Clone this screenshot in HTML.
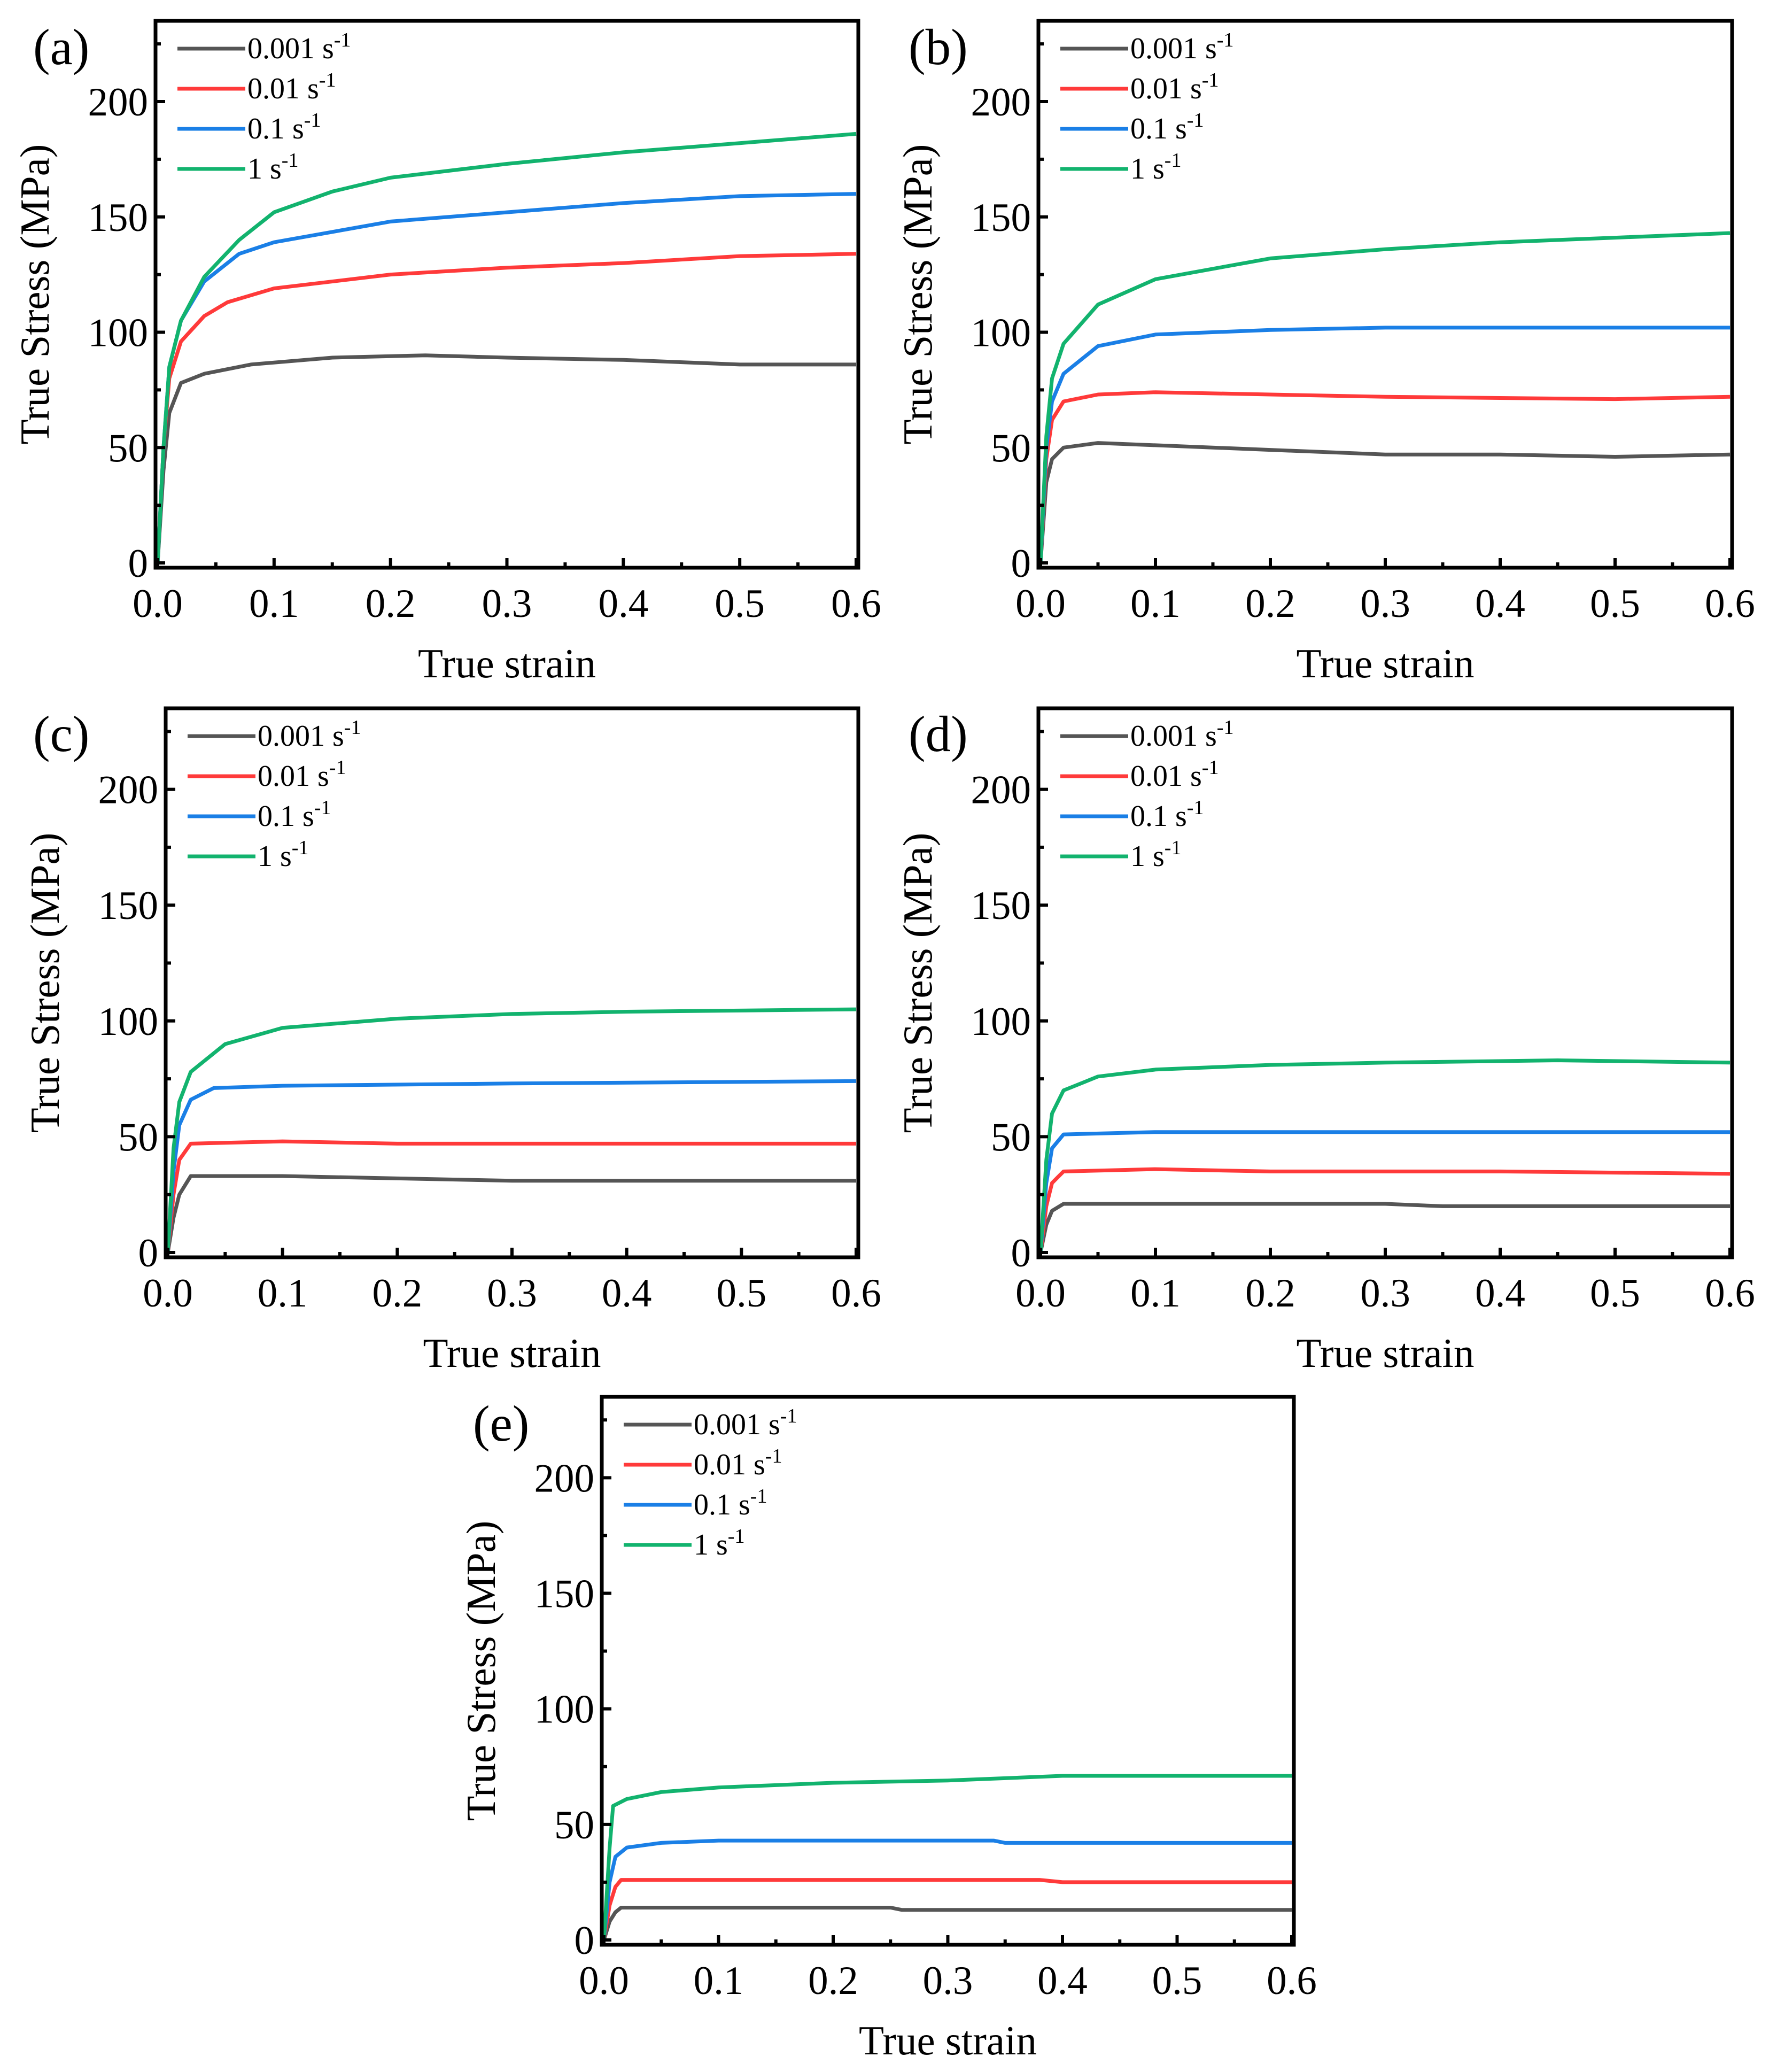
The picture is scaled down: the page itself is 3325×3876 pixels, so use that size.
<!DOCTYPE html>
<html><head><meta charset="utf-8"><style>
html,body{margin:0;padding:0;background:#fff}
svg{display:block;font-family:"Liberation Serif",serif}
</style></head><body>
<svg id="fig" width="3325" height="3876" viewBox="0 0 3325 3876" xmlns="http://www.w3.org/2000/svg"></svg>
<script>
const xTicks=[0,0.1,0.2,0.3,0.4,0.5,0.6];
const xTickLabels=["0.0","0.1","0.2","0.3","0.4","0.5","0.6"];
const yTicks=[0,50,100,150,200];
const yTickLabels=["0","50","100","150","200"];
const seriesNames=["0.001","0.01","0.1","1"];
const seriesColors=["#555555","#ff3a3a","#1a7fe6","#12b36e"];
const panelLabels=["(a)","(b)","(c)","(d)","(e)"];
const aStrain0=[0,0.005,0.01,0.02,0.04,0.08,0.15,0.23,0.3,0.4,0.5,0.6];
const aStress0=[0,40,65,78,82,86,89,90,89,88,86,86];
const aStrain1=[0,0.005,0.01,0.02,0.04,0.06,0.1,0.2,0.3,0.4,0.5,0.6];
const aStress1=[0,50,80,96,107,113,119,125,128,130,133,134];
const aStrain2=[0,0.005,0.01,0.02,0.04,0.07,0.1,0.2,0.3,0.4,0.5,0.6];
const aStress2=[0,50,85,105,122,134,139,148,152,156,159,160];
const aStrain3=[0,0.005,0.01,0.02,0.04,0.07,0.1,0.15,0.2,0.3,0.4,0.5,0.6];
const aStress3=[0,50,85,105,124,140,152,161,167,173,178,182,186];
const bStrain0=[0,0.005,0.01,0.02,0.05,0.1,0.2,0.3,0.4,0.5,0.6];
const bStress0=[0,35,45,50,52,51,49,47,47,46,47];
const bStrain1=[0,0.005,0.01,0.02,0.05,0.1,0.2,0.3,0.5,0.6];
const bStress1=[0,45,62,70,73,74,73,72,71,72];
const bStrain2=[0,0.005,0.01,0.02,0.05,0.1,0.2,0.3,0.6];
const bStress2=[0,50,70,82,94,99,101,102,102];
const bStrain3=[0,0.005,0.01,0.02,0.05,0.1,0.2,0.3,0.4,0.5,0.6];
const bStress3=[0,55,80,95,112,123,132,136,139,141,143];
const cStrain0=[0,0.005,0.01,0.02,0.1,0.2,0.3,0.6];
const cStress0=[0,15,25,33,33,32,31,31];
const cStrain1=[0,0.005,0.01,0.02,0.1,0.2,0.6];
const cStress1=[0,25,40,47,48,47,47];
const cStrain2=[0,0.005,0.01,0.02,0.04,0.1,0.3,0.6];
const cStress2=[0,35,55,66,71,72,73,74];
const cStrain3=[0,0.005,0.01,0.02,0.05,0.1,0.2,0.3,0.4,0.6];
const cStress3=[0,45,65,78,90,97,101,103,104,105];
const dStrain0=[0,0.005,0.01,0.02,0.3,0.35,0.6];
const dStress0=[0,12,18,21,21,20,20];
const dStrain1=[0,0.005,0.01,0.02,0.1,0.2,0.4,0.6];
const dStress1=[0,20,30,35,36,35,35,34];
const dStrain2=[0,0.005,0.01,0.02,0.1,0.3,0.6];
const dStress2=[0,30,45,51,52,52,52];
const dStrain3=[0,0.005,0.01,0.02,0.05,0.1,0.2,0.3,0.45,0.6];
const dStress3=[0,40,60,70,76,79,81,82,83,82];
const eStrain0=[0,0.005,0.01,0.015,0.25,0.26,0.6];
const eStress0=[0,8,12,14,14,13,13];
const eStrain1=[0,0.005,0.01,0.015,0.38,0.4,0.6];
const eStress1=[0,15,23,26,26,25,25];
const eStrain2=[0,0.005,0.01,0.02,0.05,0.1,0.34,0.35,0.6];
const eStress2=[0,25,36,40,42,43,43,42,42];
const eStrain3=[0,0.005,0.008,0.02,0.05,0.1,0.2,0.3,0.4,0.6];
const eStress3=[0,40,58,61,64,66,68,69,71,71];

const panels=[
 {x0:291,x1:1606,y0:39,y1:1062,lab:[62,120],strains:[aStrain0,aStrain1,aStrain2,aStrain3],stresses:[aStress0,aStress1,aStress2,aStress3]},
 {x0:1943,x1:3241,y0:39,y1:1062,lab:[1700,120],strains:[bStrain0,bStrain1,bStrain2,bStrain3],stresses:[bStress0,bStress1,bStress2,bStress3]},
 {x0:310,x1:1606,y0:1325,y1:2352,lab:[62,1405],strains:[cStrain0,cStrain1,cStrain2,cStrain3],stresses:[cStress0,cStress1,cStress2,cStress3]},
 {x0:1943,x1:3241,y0:1325,y1:2352,lab:[1700,1405],strains:[dStrain0,dStrain1,dStrain2,dStrain3],stresses:[dStress0,dStress1,dStress2,dStress3]},
 {x0:1126,x1:2421,y0:2613,y1:3638,lab:[885,2695],strains:[eStrain0,eStrain1,eStrain2,eStrain3],stresses:[eStress0,eStress1,eStress2,eStress3]}
];
const NS="http://www.w3.org/2000/svg";
const svg=document.getElementById('fig');
function mk(tag,attrs,parent,text){const e=document.createElementNS(NS,tag);for(const k in attrs)e.setAttribute(k,attrs[k]);if(text!==undefined)e.textContent=text;parent.appendChild(e);return e;}
panels.forEach((p,pi)=>{
 const g=mk('g',{},svg);
 
 
 const xs=v=>p.x0+4+(v/0.6)*(p.x1-p.x0-8);
 const ys=v=>(p.y1-9)-(v/235)*(p.y1-9-p.y0);
 p.strains.forEach((sx,si)=>{
  const pts=sx.map((v,i)=>xs(v).toFixed(1)+','+ys(p.stresses[si][i]).toFixed(1)).join(' ');
  const l=mk('polyline',{points:pts,fill:'none',stroke:seriesColors[si],'stroke-width':7,'stroke-linejoin':'round'},g);
  
  
 });
 const fr=mk('rect',{x:p.x0,y:p.y0,width:p.x1-p.x0,height:p.y1-p.y0,fill:'none',stroke:'#000','stroke-width':7},g);
 
 
 for(let k=0;k<=12;k++){const v=k*0.05;const X=xs(v);mk('line',{x1:X,x2:X,y1:p.y1,y2:p.y1-(k%2?10:18),stroke:'#000','stroke-width':6},g);}
 xTicks.forEach((v,i)=>{const t=mk('text',{x:xs(v),y:p.y1+92,'font-size':75,'text-anchor':'middle'},g,xTickLabels[i]);
  
  });
 for(let k=0;k<=9;k++){const Y=ys(k*25);mk('line',{x1:p.x0,x2:p.x0+(k%2?10:18),y1:Y,y2:Y,stroke:'#000','stroke-width':6},g);}
 yTicks.forEach((v,i)=>{const t=mk('text',{x:p.x0-14,y:ys(v)+26,'font-size':75,'text-anchor':'end'},g,yTickLabels[i]);
  
  });
 const xt=mk('text',{x:(p.x0+p.x1)/2,y:p.y1+205,'font-size':77,'text-anchor':'middle'},g,'True strain');
 
 
 const cy=(p.y0+p.y1)/2, cx=p.x0-200;
 const yt=mk('text',{x:cx,y:cy,'font-size':77,'text-anchor':'middle',transform:`rotate(-90 ${cx} ${cy})`},g,'True Stress (MPa)');
 
 
 const pl=mk('text',{x:p.lab[0],y:p.lab[1],'font-size':95},g,panelLabels[pi]);
 
 
 seriesNames.forEach((n,si)=>{
  const ly=p.y0+52+si*75;
  const le=mk('g',{},g);
  
  
  mk('line',{x1:p.x0+41,x2:p.x0+168,y1:ly,y2:ly,stroke:seriesColors[si],'stroke-width':7},le);
  const t=mk('text',{x:p.x0+172,y:ly+18,'font-size':56},le);
  t.textContent=n+' s';
  mk('tspan',{dy:-22,'font-size':38},t,'-1');
 });
});
</script>
</body></html>
